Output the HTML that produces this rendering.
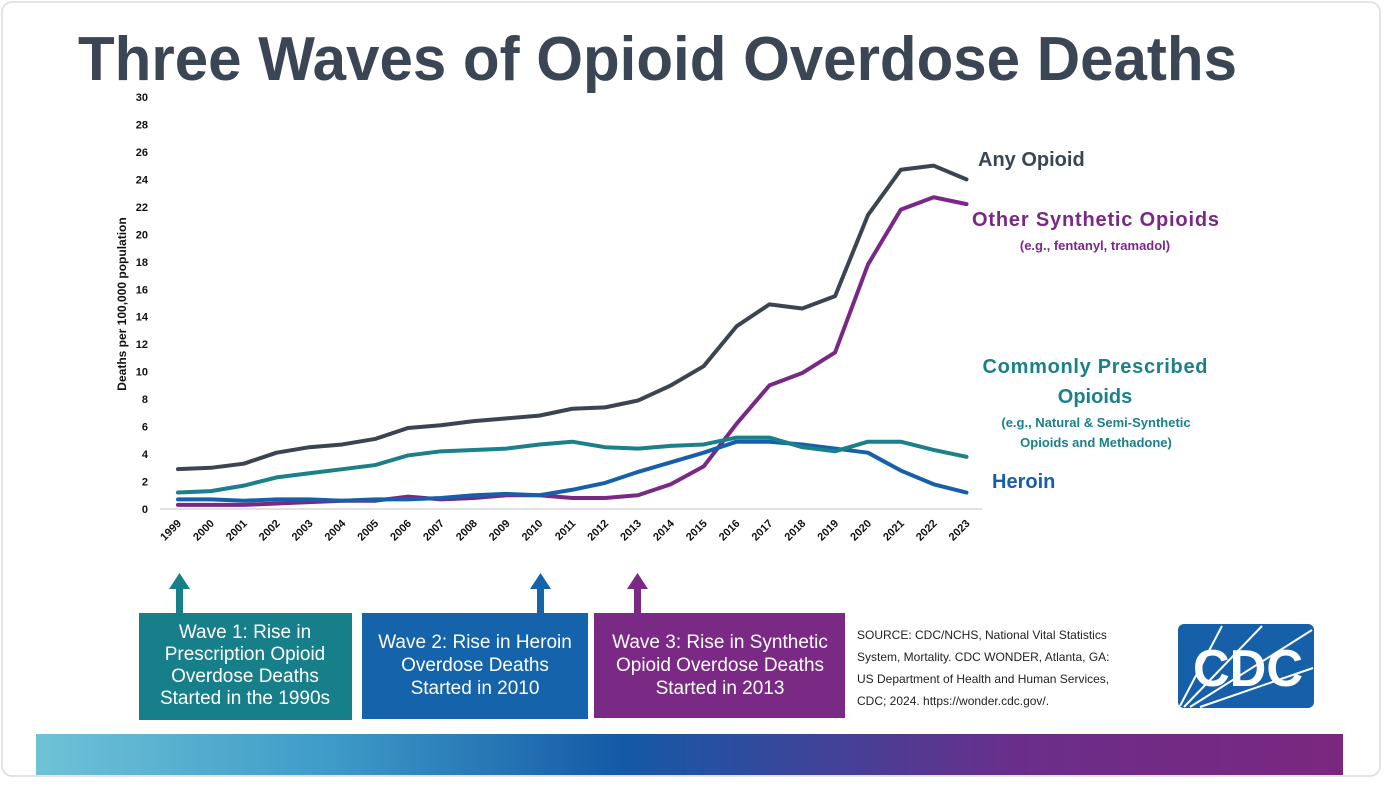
<!DOCTYPE html>
<html><head><meta charset="utf-8"><style>
html,body{margin:0;padding:0;background:#fff;}
body{width:1384px;height:780px;overflow:hidden;font-family:"Liberation Sans",sans-serif;}
svg text{font-family:"Liberation Sans",sans-serif;}
</style></head><body>
<svg id="chart" width="1384" height="780" viewBox="0 0 1384 780">
<defs>
<linearGradient id="grad" x1="0" x2="1" y1="0" y2="0">
<stop offset="0" stop-color="#6fc3d7"/><stop offset="0.22" stop-color="#3f9cc8"/><stop offset="0.45" stop-color="#1459a6"/><stop offset="0.75" stop-color="#6a2e8a"/><stop offset="1" stop-color="#7b277f"/>
</linearGradient>
</defs>
<rect x="2" y="2" width="1378" height="774" rx="10" fill="#fff" stroke="#dcdcdc" stroke-width="1.5"/>
<text x="78" y="80" font-size="62" font-weight="bold" fill="#3a4654" textLength="1159" lengthAdjust="spacingAndGlyphs">Three Waves of Opioid Overdose Deaths</text>
<g id="yticks"></g>
<g id="xticks"></g>
<text transform="translate(126,304) rotate(-90)" text-anchor="middle" font-size="12" font-weight="bold" fill="#111">Deaths per 100,000 population</text>
<line x1="160" x2="982" y1="509" y2="509" stroke="#d9d9d9" stroke-width="1.5"/>
<g id="lines"></g>
<g font-weight="bold">
<text x="978" y="166" font-size="20" fill="#3a4654">Any Opioid</text>
<text x="972" y="226" font-size="20" fill="#7a2886" textLength="247">Other Synthetic Opioids</text>
<text x="1095" y="250" font-size="13" fill="#7a2886" text-anchor="middle">(e.g., fentanyl, tramadol)</text>
<text x="1095" y="373" font-size="20" fill="#1b8089" text-anchor="middle" textLength="225">Commonly Prescribed</text>
<text x="1095" y="403" font-size="20" fill="#1b8089" text-anchor="middle">Opioids</text>
<text x="1096" y="427" font-size="13" fill="#1b8089" text-anchor="middle">(e.g., Natural &amp; Semi-Synthetic</text>
<text x="1096" y="447" font-size="13" fill="#1b8089" text-anchor="middle">Opioids and Methadone)</text>
<text x="992" y="488" font-size="20" fill="#1660aa">Heroin</text>
</g>
<g>
<rect x="176" y="588" width="7" height="26" fill="#177f8a"/><polygon points="169,589 179.5,573 190,589" fill="#177f8a"/>
<rect x="537" y="588" width="7" height="26" fill="#1463ab"/><polygon points="530,589 540.5,573 551,589" fill="#1463ab"/>
<rect x="634" y="588" width="7" height="26" fill="#7a2a85"/><polygon points="627,589 637.5,573 648,589" fill="#7a2a85"/>
</g>
<g font-size="19" fill="#fff" text-anchor="middle">
<rect x="139" y="613" width="213" height="107" fill="#177f8a"/>
<text x="245" y="638"><tspan x="245">Wave 1: Rise in</tspan><tspan x="245" dy="22">Prescription Opioid</tspan><tspan x="245" dy="22">Overdose Deaths</tspan><tspan x="245" dy="22">Started in the 1990s</tspan></text>
<rect x="362" y="613" width="226" height="106" fill="#1463ab"/>
<text x="475" y="648"><tspan x="475">Wave 2: Rise in Heroin</tspan><tspan x="475" dy="23">Overdose Deaths</tspan><tspan x="475" dy="23">Started in 2010</tspan></text>
<rect x="594" y="613" width="251" height="105" fill="#7a2a85"/>
<text x="720" y="648"><tspan x="720">Wave 3: Rise in Synthetic</tspan><tspan x="720" dy="23">Opioid Overdose Deaths</tspan><tspan x="720" dy="23">Started in 2013</tspan></text>
</g>
<text font-size="12" fill="#222"><tspan x="857" y="639">SOURCE: CDC/NCHS, National Vital Statistics</tspan><tspan x="857" y="661">System, Mortality. CDC WONDER, Atlanta, GA:</tspan><tspan x="857" y="683">US Department of Health and Human Services,</tspan><tspan x="857" y="705">CDC; 2024. https://wonder.cdc.gov/.</tspan></text>
<g>
<rect x="1178" y="624" width="136" height="84" rx="6" fill="#1660aa"/>
<g stroke="#fff" stroke-width="2">
<line x1="1180" y1="706" x2="1222" y2="626"/><line x1="1184" y1="707" x2="1262" y2="626"/><line x1="1190" y1="707" x2="1312" y2="630"/><line x1="1200" y1="707" x2="1313" y2="668"/>
</g>
<text x="1248" y="686" font-size="52" font-weight="bold" fill="#fff" text-anchor="middle" textLength="110" lengthAdjust="spacingAndGlyphs">CDC</text>
</g>
<rect x="36" y="734" width="1307" height="41" fill="url(#grad)"/>
</svg>
<script>
const years=["1999","2000","2001","2002","2003","2004","2005","2006","2007","2008","2009","2010","2011","2012","2013","2014","2015","2016","2017","2018","2019","2020","2021","2022","2023"];
const yTickLabels=["0","2","4","6","8","10","12","14","16","18","20","22","24","26","28","30"];
const anyOpioid=[2.9,3.0,3.3,4.1,4.5,4.7,5.1,5.9,6.1,6.4,6.6,6.8,7.3,7.4,7.9,9.0,10.4,13.3,14.9,14.6,15.5,21.4,24.7,25.0,24.0];
const otherSynthetic=[0.3,0.3,0.3,0.4,0.5,0.6,0.6,0.9,0.7,0.8,1.0,1.0,0.8,0.8,1.0,1.8,3.1,6.2,9.0,9.9,11.4,17.8,21.8,22.7,22.2];
const commonlyPrescribed=[1.2,1.3,1.7,2.3,2.6,2.9,3.2,3.9,4.2,4.3,4.4,4.7,4.9,4.5,4.4,4.6,4.7,5.2,5.2,4.5,4.2,4.9,4.9,4.3,3.8];
const heroin=[0.7,0.7,0.6,0.7,0.7,0.6,0.7,0.7,0.8,1.0,1.1,1.0,1.4,1.9,2.7,3.4,4.1,4.9,4.9,4.7,4.4,4.1,2.8,1.8,1.2];
const NS="http://www.w3.org/2000/svg";
function xPos(i){return 178+i*(966.5-178)/(years.length-1);}
function yPos(v){return 509-v*(509-97)/30;}
const yt=document.getElementById('yticks');
yTickLabels.forEach(l=>{const t=document.createElementNS(NS,'text');


t.setAttribute('x',148);t.setAttribute('y',yPos(+l)+4);t.setAttribute('text-anchor','end');t.setAttribute('font-size','11');t.setAttribute('font-weight','bold');t.setAttribute('fill','#111');t.textContent=l;yt.appendChild(t);});
const xt=document.getElementById('xticks');
years.forEach((y,i)=>{const t=document.createElementNS(NS,'text');


const x=xPos(i)+4,yy=524;t.setAttribute('transform','translate('+x+','+yy+') rotate(-45)');t.setAttribute('text-anchor','end');t.setAttribute('font-size','11');t.setAttribute('font-weight','bold');t.setAttribute('fill','#111');t.textContent=y;xt.appendChild(t);});
const lg=document.getElementById('lines');
function drawLine(vals,color,name){const p=document.createElementNS(NS,'polyline');


p.setAttribute('points',vals.map((v,i)=>xPos(i)+','+yPos(v)).join(' '));p.setAttribute('fill','none');p.setAttribute('stroke',color);p.setAttribute('stroke-width','4');p.setAttribute('stroke-linejoin','round');p.setAttribute('stroke-linecap','round');lg.appendChild(p);}
drawLine(otherSynthetic,'#7a2886','line-other-synthetic');
drawLine(heroin,'#1660aa','line-heroin');
drawLine(commonlyPrescribed,'#1b8089','line-commonly-prescribed');
drawLine(anyOpioid,'#3b4450','line-any-opioid');
</script>
</body></html>
